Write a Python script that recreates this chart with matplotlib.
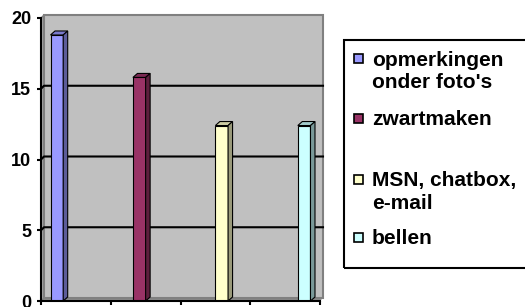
import matplotlib
matplotlib.use('Agg')
import matplotlib.pyplot as plt
from matplotlib.patches import Rectangle, Polygon
import matplotlib.colors as mcolors

# chart data
categories = ['', '', '', '']
series = ["opmerkingen\nonder foto's", 'zwartmaken', 'MSN, chatbox,\ne-mail', 'bellen']
values = [18.8, 15.8, 12.4, 12.4]
colors = ['#9999FF', '#993366', '#FFFFCC', '#CCFFFF']
yticks = [0, 5, 10, 15, 20]

plt.rcParams['font.family'] = ['Liberation Sans', 'DejaVu Sans']
plt.rcParams['font.weight'] = 'bold'


def shade(c, f):
    r, g, b = mcolors.to_rgb(c)
    return (r * f, g * f, b * f)


W, H = 525, 307
fig = plt.figure(figsize=(W / 100, H / 100), dpi=100)
ax = fig.add_axes([41 / W, 1 - 301 / H, 279 / W, 283 / H])
n_cat = len(categories)
n_ser = len(series)
ymax = yticks[-1]
ax.set_xlim(0, n_cat)
ax.set_ylim(0, ymax)

# pixel -> data units, used for the fake 3d depth
p0 = ax.transData.transform((0, 0))
p1 = ax.transData.transform((1, 1))
ux, uy = p1 - p0
wx, wy = 3 / ux, 3 / uy      # wall depth
bx, by = 4.5 / ux, 4 / uy    # bar depth

# back wall, side wall and floor
ax.add_patch(Polygon([(0, 0), (n_cat, 0), (n_cat + wx, wy), (wx, wy)],
                     fc='#8C8C8C', ec='none', zorder=0, clip_on=False))
ax.add_patch(Polygon([(0, 0), (wx, wy), (wx, ymax + wy), (0, ymax)],
                     fc='#A6A6A6', ec='#808080', lw=1, zorder=0, clip_on=False))
ax.add_patch(Rectangle((wx, wy), n_cat, ymax, fc='#C0C0C0', ec='#808080',
                       lw=1.5, zorder=0, clip_on=False))

# gridlines on the walls
for v in yticks[1:-1]:
    ax.plot([0, wx, n_cat + wx], [v, v + wy, v + wy], color='black', lw=1.5,
            zorder=1, clip_on=False)

# one series per category, excel style placement (gap width 150%)
w = 1 / (n_ser + 1.5)
for i, (v, c) in enumerate(zip(values, colors)):
    left = i + (0.75 + i) * w
    ax.bar(left, v, w, align='edge', color=c, edgecolor='black', lw=0.8, zorder=3)
    ax.add_patch(Polygon([(left, v), (left + w, v), (left + w + bx, v + by), (left + bx, v + by)],
                         fc=shade(c, 0.8), ec='black', lw=0.8, zorder=3, clip_on=False))
    ax.add_patch(Polygon([(left + w, 0), (left + w + bx, by), (left + w + bx, v + by), (left + w, v)],
                         fc=shade(c, 0.6), ec='black', lw=0.8, zorder=3, clip_on=False))

ax.patch.set_visible(False)
for s in ['top', 'right']:
    ax.spines[s].set_visible(False)
for s in ['left', 'bottom']:
    ax.spines[s].set_linewidth(1.5)
    ax.spines[s].set_zorder(4)

ax.set_yticks(yticks)
ax.set_yticklabels([str(t) for t in yticks], fontweight='bold', fontsize=13)
ax.set_xticks(range(n_cat + 1))
ax.set_xticklabels([])
ax.tick_params(axis='y', direction='out', length=3, width=1.5, pad=4)
ax.tick_params(axis='x', direction='out', length=3, width=1.5)

# legend box, drawn by hand (uneven spacing like the original)
leg_left, leg_top, leg_bottom = 344, 40, 268
fig.add_artist(Rectangle((leg_left / W, 1 - leg_bottom / H), (W + 30 - leg_left) / W,
                         (leg_bottom - leg_top) / H, transform=fig.transFigure,
                         fill=False, ec='black', lw=1.5, clip_on=False))
baselines = [66.5, 126, 187, 245]
for lab, c, b in zip(series, colors, baselines):
    fig.add_artist(Rectangle((354 / W, 1 - (b - 3.5) / H), 9 / W, 9 / H,
                             transform=fig.transFigure, fc=c, ec='black', lw=1.2))
    fig.text(372 / W, 1 - (b - 16) / H, lab, fontsize=15, fontweight='bold',
             va='top', linespacing=1.25)

fig.savefig('out.png', dpi=100)
